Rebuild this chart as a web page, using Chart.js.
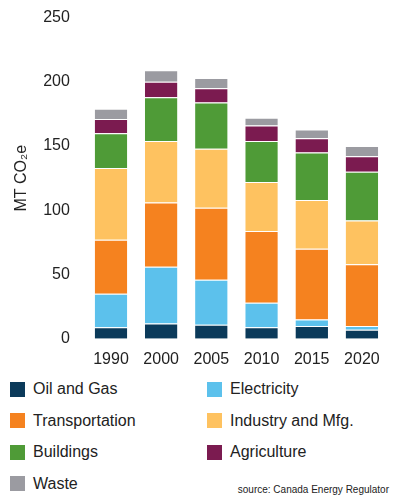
<!DOCTYPE html>
<html><head><meta charset="utf-8">
<script src="https://cdn.jsdelivr.net/npm/chart.js@4"></script>
<style>
body{margin:0;width:401px;height:500px;background:#fff;font-family:"Liberation Sans",Arial,sans-serif;position:relative;overflow:hidden}
#wrap{position:absolute;left:0;top:0;width:401px;height:372px}
.lg{position:absolute;font-size:16px;color:#222;display:flex;align-items:center}
.lg span{display:inline-block;width:15px;height:15px;margin-right:8px}
#src{position:absolute;right:12px;top:484px;font-size:10px;color:#222}
</style></head><body>
<div id="wrap"><canvas id="c" width="401" height="372"></canvas></div>
<div id="legend"></div>
<div id="src">source: Canada Energy Regulator</div>
<script>
const years=["1990","2000","2005","2010","2015","2020"];
const names=["Oil and Gas","Electricity","Transportation","Industry and Mfg.","Buildings","Agriculture","Waste"];
const colors=["#0b3a5a","#5cc1ec","#f5821f","#fec260","#4f9b37","#7b1b50","#9b9ba1"];
const oilGas=[9,12,11,9,10,7];
const electricity=[26,44,35,19,5,3];
const transportation=[42,50,56,56,55,48];
const industry=[56,48,46,38,38,34];
const buildings=[27,34,36,32,37,38];
const agriculture=[11,12,11,12,11,12];
const waste=[8,9,8,6,7,8];
const series=[oilGas,electricity,transportation,industry,buildings,agriculture,waste];
Chart.defaults.font.family='"Liberation Sans",Arial,sans-serif';
new Chart(document.getElementById('c'),{type:'bar',
data:{labels:years,datasets:series.map((d,i)=>({label:names[i],data:d,backgroundColor:colors[i],borderColor:'#fff',borderWidth:{top:1},borderSkipped:false,barPercentage:0.72,categoryPercentage:0.9}))},
options:{responsive:false,animation:false,devicePixelRatio:1,
layout:{padding:{left:8,right:14,top:8}},
plugins:{legend:{display:false},tooltip:{enabled:false}},
scales:{x:{stacked:true,grid:{display:false},border:{display:false},ticks:{color:'#222',font:{size:16}}},
y:{stacked:true,min:0,max:250,grid:{display:false},border:{display:false},ticks:{stepSize:50,color:'#222',font:{size:16},padding:8},
title:{display:true,text:'MT CO₂e',color:'#222',font:{size:16}}}}}});
const lg=document.getElementById('legend');
names.forEach((n,i)=>{const d=document.createElement('div');d.className='lg';
d.style.left=(i%2?207:10)+'px';d.style.top=(380+Math.floor(i/2)*31.5)+'px';
d.innerHTML='<span style="background:'+colors[i]+'"></span>'+n;lg.appendChild(d);});
</script></body></html>
